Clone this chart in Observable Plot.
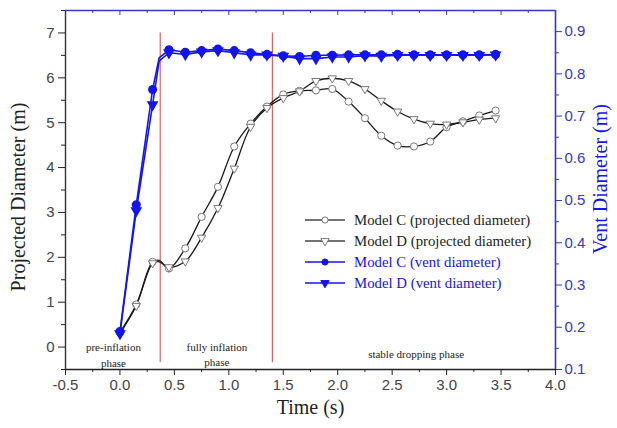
<!DOCTYPE html>
<html><head><meta charset="utf-8">
<script src="https://cdn.jsdelivr.net/npm/d3@7"></script>
<script src="https://cdn.jsdelivr.net/npm/@observablehq/plot@0.6"></script>
<style>
html,body{margin:0;padding:0;background:#fff;}
#wrap{position:relative;width:617px;height:428px;}
#legend{position:absolute;left:0;top:0;pointer-events:none;}
</style></head><body><div id="wrap"></div>
<script>
// Time (s)
const time = [0, 0.15, 0.3, 0.36, 0.45, 0.6, 0.75, 0.9, 1.05, 1.2, 1.35, 1.5, 1.65, 1.8, 1.95, 2.1, 2.25, 2.4, 2.55, 2.7, 2.85, 3.0, 3.15, 3.3, 3.45];
// Projected diameter (m), left axis
const projC = [0.33, 0.95, 1.9, 1.93, 1.75, 2.2, 2.9, 3.57, 4.47, 4.98, 5.36, 5.63, 5.71, 5.72, 5.75, 5.47, 5.1, 4.71, 4.49, 4.47, 4.58, 4.9, 5.03, 5.16, 5.27];
const projD = [0.3, 0.92, 1.87, 1.9, 1.78, 1.91, 2.44, 3.1, 3.98, 4.91, 5.33, 5.55, 5.7, 5.93, 5.99, 5.93, 5.75, 5.49, 5.25, 5.08, 4.98, 4.96, 5.01, 5.07, 5.1];
// Vent diameter (m), right axis
const ventC = [0.19, 0.49, 0.763, 0.838, 0.857, 0.851, 0.855, 0.859, 0.855, 0.85, 0.846, 0.843, 0.841, 0.844, 0.844, 0.845, 0.845, 0.845, 0.846, 0.845, 0.845, 0.845, 0.845, 0.845, 0.846];
const ventD = [0.185, 0.476, 0.727, 0.83, 0.85, 0.846, 0.852, 0.855, 0.85, 0.845, 0.845, 0.842, 0.836, 0.836, 0.84, 0.84, 0.843, 0.842, 0.844, 0.844, 0.844, 0.844, 0.844, 0.844, 0.845];
// Phase boundaries (s)
const phaseBounds = [0.37, 1.4];
const phaseLabels = [
  {t: -0.06, p: -0.16, label: "pre-inflation\nphase"},
  {t: 0.89, p: -0.14, label: "fully inflation\nphase"},
  {t: 2.72, p: -0.13, label: "stable dropping phase"}
];
// Axis ticks
const xMajor = [-0.5, 0, 0.5, 1.0, 1.5, 2.0, 2.5, 3.0, 3.5, 4.0];
const xMinor = [-0.25, 0.25, 0.75, 1.25, 1.75, 2.25, 2.75, 3.25, 3.75];
const yLeftMajor = [0, 1, 2, 3, 4, 5, 6, 7];
const yLeftMinor = [-0.5, 0.5, 1.5, 2.5, 3.5, 4.5, 5.5, 6.5, 7.5];
const yRightMajor = [0.1, 0.2, 0.3, 0.4, 0.5, 0.6, 0.7, 0.8, 0.9];
const yRightMinor = [0.15, 0.25, 0.35, 0.45, 0.55, 0.65, 0.75, 0.85];
const legendItems = [
  {label: "Model C (projected diameter)", color: "#222", symbol: "circle", fill: "white"},
  {label: "Model D (projected diameter)", color: "#222", symbol: "triangle", fill: "white"},
  {label: "Model C (vent diameter)", color: "#1414f0", symbol: "circle", fill: "#1414f0"},
  {label: "Model D (vent diameter)", color: "#1414f0", symbol: "triangle", fill: "#1414f0"}
];

const leftDomain = [-0.5, 7.5];
const rightDomain = [0.1, 0.95];
const toLeft = v => leftDomain[0] + (v - rightDomain[0]) * (leftDomain[1] - leftDomain[0]) / (rightDomain[1] - rightDomain[0]);
const toRight = p => rightDomain[0] + (p - leftDomain[0]) * (rightDomain[1] - rightDomain[0]) / (leftDomain[1] - leftDomain[0]);

const rows = time.map((t, i) => ({t, projC: projC[i], projD: projD[i], vC: toLeft(ventC[i]), vD: toLeft(ventD[i])}));
const isMarked = d => Math.abs(d.t / 0.15 - Math.round(d.t / 0.15)) < 1e-6;
const markedRows = rows.filter(isMarked);

const BLUE = "#1414f0";
const AXBLUE = "#3535d0";
const SANS = "Liberation Sans, Arial, sans-serif";
const SERIF = "Liberation Serif, Times New Roman, serif";

const chart = Plot.plot({
  width: 617, height: 428,
  marginLeft: 65, marginRight: 62, marginTop: 10, marginBottom: 59,
  x: {domain: [-0.5, 4.0]},
  y: {domain: leftDomain},
  style: {fontFamily: SANS, background: "white", overflow: "visible"},
  marks: [
    // bottom axis
    Plot.axisX({ticks: xMajor, tickSize: 6, tickPadding: 4, tickFormat: d => d.toFixed(1), label: null, fontSize: 15, color: "#444", stroke: "#222"}),
    Plot.axisX({ticks: xMinor, tickSize: 3, tickFormat: () => "", label: null, stroke: "#222"}),
    // top ticks (inward)
    Plot.axisX({anchor: "bottom", frameAnchor: "top", ticks: xMajor, tickSize: 5, tickFormat: () => "", label: null, stroke: AXBLUE}),
    Plot.axisX({anchor: "bottom", frameAnchor: "top", ticks: xMinor, tickSize: 3, tickFormat: () => "", label: null, stroke: AXBLUE}),
    // left axis
    Plot.axisY({ticks: yLeftMajor, tickSize: 7, tickPadding: 4, tickFormat: d => String(d), label: null, fontSize: 15, color: "#444", stroke: "#222"}),
    Plot.axisY({ticks: yLeftMinor, tickSize: 4, tickFormat: () => "", label: null, stroke: "#222"}),
    // right axis (vent diameter)
    Plot.axisY({anchor: "right", ticks: yRightMajor.map(toLeft), tickSize: 6, tickPadding: 3, tickFormat: d => toRight(d).toFixed(1), label: null, fontSize: 15, color: AXBLUE}),
    Plot.axisY({anchor: "right", ticks: yRightMinor.map(toLeft), tickSize: 3, tickFormat: () => "", label: null, stroke: AXBLUE}),
    // frame
    Plot.ruleY([leftDomain[0]], {stroke: "#222", strokeWidth: 1.6}),
    Plot.ruleX([-0.5], {stroke: "#333", strokeWidth: 1.4}),
    Plot.ruleY([leftDomain[1]], {stroke: AXBLUE, strokeWidth: 1.4}),
    Plot.ruleX([4.0], {stroke: AXBLUE, strokeWidth: 1.6}),
    // phase boundaries
    Plot.ruleX(phaseBounds, {y1: -0.35, y2: 7.0, stroke: "#e06060", strokeWidth: 1.2}),
    Plot.text(phaseLabels, {x: "t", y: "p", text: "label", fontFamily: SERIF, fontSize: 11, lineHeight: 1.4, fill: "#222"}),
    // projected diameter lines
    Plot.line(rows, {x: "t", y: "projC", stroke: "#1a1a1a", strokeWidth: 1.3, curve: "catmull-rom"}),
    Plot.line(rows, {x: "t", y: "projD", stroke: "#1a1a1a", strokeWidth: 1.3, curve: "catmull-rom"}),
    Plot.dot(markedRows, {x: "t", y: "projC", r: 3.6, fill: "white", stroke: "#777", strokeWidth: 1}),
    Plot.dot(markedRows, {x: "t", y: "projD", symbol: "triangle", rotate: 180, r: 3.1, fill: "white", stroke: "#777", strokeWidth: 1}),
    // vent diameter lines
    Plot.line(rows, {x: "t", y: "vC", stroke: BLUE, strokeWidth: 1.6}),
    Plot.line(rows, {x: "t", y: "vD", stroke: BLUE, strokeWidth: 1.6}),
    Plot.dot(markedRows, {x: "t", y: "vC", r: 3.8, fill: BLUE, stroke: BLUE}),
    Plot.dot(markedRows, {x: "t", y: "vD", symbol: "triangle", rotate: 180, r: 3.4, fill: BLUE, stroke: BLUE}),
    // axis titles
    Plot.text(["Time (s)"], {frameAnchor: "bottom", dy: 44, fontFamily: SERIF, fontSize: 20, fill: "#222"}),
    Plot.text(["Projected Diameter (m)"], {frameAnchor: "left", textAnchor: "middle", dx: -47, dy: 7, rotate: -90, fontFamily: SERIF, fontSize: 20, fill: "#222"}),
    Plot.text(["Vent Diameter (m)"], {frameAnchor: "right", textAnchor: "middle", dx: 45, dy: -11, rotate: -90, fontFamily: SERIF, fontSize: 20, fill: BLUE})
  ]
});

const wrap = document.getElementById("wrap");
wrap.appendChild(chart);

// legend overlay
const lg = d3.select(wrap).append("svg").attr("id", "legend").attr("width", 617).attr("height", 428);
const row = lg.selectAll("g").data(legendItems).join("g")
  .attr("transform", (d, i) => `translate(305,${220 + i * 21})`);
row.append("line").attr("x1", 0).attr("x2", 40).attr("y1", 0).attr("y2", 0)
  .attr("stroke", d => d.color === "#222" ? "#444" : d.color).attr("stroke-width", 1.6);
row.append("path")
  .attr("d", d => d3.symbol(d.symbol === "circle" ? d3.symbolCircle : d3.symbolTriangle, d.symbol === "circle" ? 30 : 30)())
  .attr("transform", d => `translate(20,0) rotate(${d.symbol === "triangle" ? 180 : 0})`)
  .attr("fill", d => d.fill).attr("stroke", d => d.fill === "white" ? "#777" : d.color);
row.append("text").attr("x", 49).attr("y", 0).attr("dy", "0.35em")
  .attr("font-family", SERIF).attr("font-size", 14.8).attr("fill", d => d.color)
  .text(d => d.label);
</script></body></html>
